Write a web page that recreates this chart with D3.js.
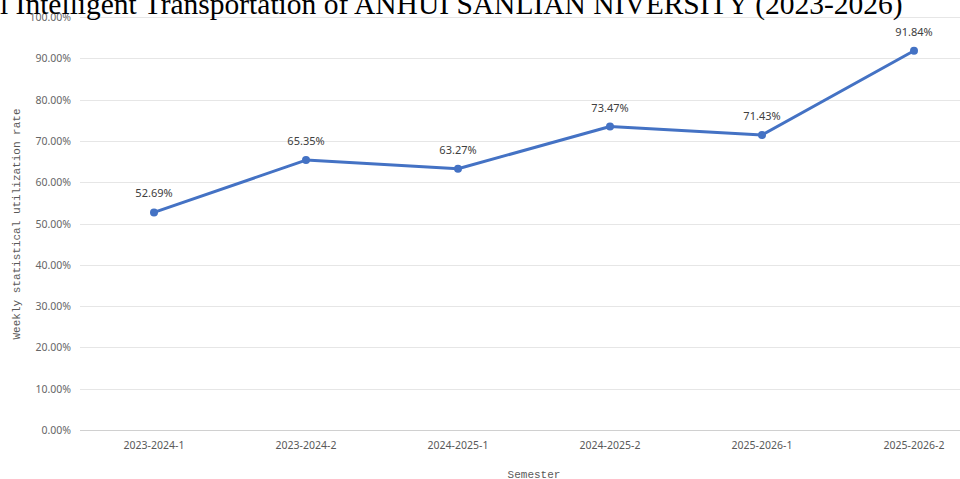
<!DOCTYPE html>
<html>
<head>
<meta charset="utf-8">
<script src="https://cdn.jsdelivr.net/npm/d3@7"></script>
<style>
  body { margin: 0; background: #fff; overflow: hidden; }
  svg { display: block; }
</style>
</head>
<body>
<svg id="chart" width="960" height="479"></svg>
<script>
var semesters = ['2023-2024-1', '2023-2024-2', '2024-2025-1', '2024-2025-2', '2025-2026-1', '2025-2026-2'];
var rates = [52.69, 65.35, 63.27, 73.47, 71.43, 91.84];
var yTicks = [0, 10, 20, 30, 40, 50, 60, 70, 80, 90, 100];

var svg = d3.select('#chart');
var width = 960, height = 479;

var margins = { top: 17, bottom: 49, left: 78, right: -30 };

var x = d3.scaleBand()
  .domain(semesters)
  .range([margins.left, width - margins.right]);

var y = d3.scaleLinear()
  .domain([0, 100])
  .range([height - margins.bottom, margins.top]);

// gridlines
svg.append('g')
  .selectAll('line')
  .data(yTicks)
  .enter()
  .append('line')
  .attr('x1', 80)
  .attr('x2', width)
  .attr('y1', function(d) { return Math.round(y(d)) + 0.5; })
  .attr('y2', function(d) { return Math.round(y(d)) + 0.5; })
  .attr('stroke', function(d) { return d === 0 ? '#d0d0d0' : '#e6e6e6'; })
  .attr('stroke-width', 1);

// y tick labels
svg.append('g')
  .selectAll('text')
  .data(yTicks)
  .enter()
  .append('text')
  .attr('x', 71)
  .attr('y', function(d) { return y(d) + 4; })
  .attr('text-anchor', 'end')
  .attr('font-family', 'Noto Sans, sans-serif')
  .attr('font-size', '10.5px')
  .attr('fill', '#666')
  .text(function(d) { return d.toFixed(2) + '%'; });

// x tick labels
svg.append('g')
  .selectAll('text')
  .data(semesters)
  .enter()
  .append('text')
  .attr('x', function(d) { return x(d) + x.bandwidth() / 2; })
  .attr('y', 449)
  .attr('text-anchor', 'middle')
  .attr('font-family', 'Noto Sans, sans-serif')
  .attr('font-size', '10.5px')
  .attr('fill', '#595959')
  .text(function(d) { return d; });

// axis titles
svg.append('text')
  .attr('x', 534)
  .attr('y', 478)
  .attr('text-anchor', 'middle')
  .attr('font-family', 'Liberation Mono, monospace')
  .attr('font-size', '11px')
  .attr('fill', '#595959')
  .text('Semester');

svg.append('text')
  .attr('transform', 'translate(20,' + 224 + ') rotate(-90)')
  .attr('text-anchor', 'middle')
  .attr('font-family', 'Liberation Mono, monospace')
  .attr('font-size', '11px')
  .attr('fill', '#595959')
  .text('Weekly statistical utilization rate');

// title (cut off at the top edge, as in the source picture)
svg.append('text')
  .attr('x', 0)
  .attr('y', 14)
  .attr('font-family', 'Liberation Serif, serif')
  .attr('font-size', '29.5px')
  .attr('fill', '#000')
  .text('l Intelligent Transportation of ANHUI SANLIAN NIVERSITY (2023-2026)');

// line
var line = d3.line()
  .x(function(d, i) { return x(semesters[i]) + x.bandwidth() / 2; })
  .y(function(d) { return y(d); });

svg.append('path')
  .datum(rates)
  .attr('d', line)
  .attr('fill', 'none')
  .attr('stroke', '#4472C4')
  .attr('stroke-width', 3)
  .attr('stroke-linejoin', 'round')
  .attr('stroke-linecap', 'round');

svg.append('g')
  .selectAll('circle')
  .data(rates)
  .enter()
  .append('circle')
  .attr('cx', function(d, i) { return x(semesters[i]) + x.bandwidth() / 2; })
  .attr('cy', function(d) { return y(d); })
  .attr('r', 4)
  .attr('fill', '#4472C4');

// data labels
svg.append('g')
  .selectAll('text')
  .data(rates)
  .enter()
  .append('text')
  .attr('x', function(d, i) { return x(semesters[i]) + x.bandwidth() / 2; })
  .attr('y', function(d) { return y(d) - 15; })
  .attr('text-anchor', 'middle')
  .attr('font-family', 'Noto Sans, sans-serif')
  .attr('font-size', '11px')
  .attr('fill', '#404040')
  .text(function(d) { return d.toFixed(2) + '%'; });
</script>
</body>
</html>
